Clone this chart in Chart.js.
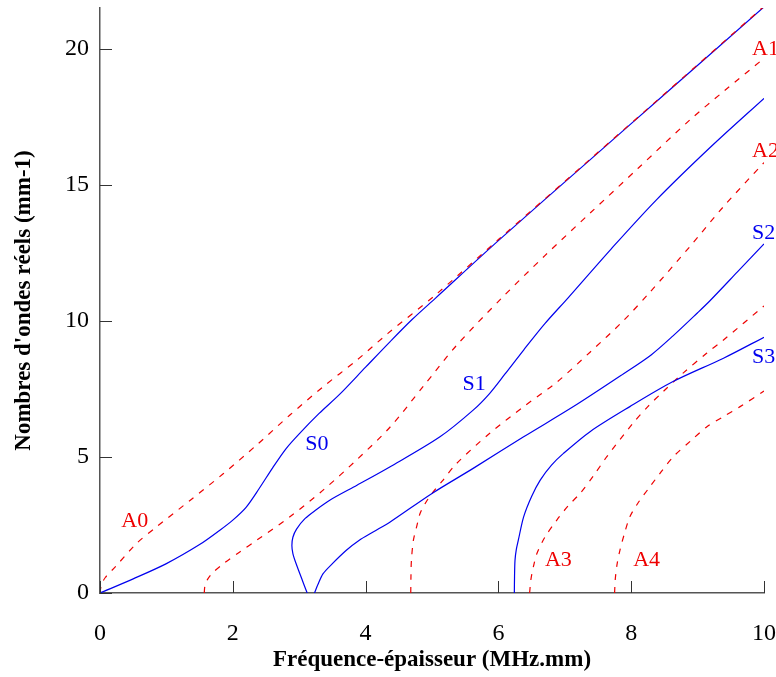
<!DOCTYPE html>
<html>
<head>
<meta charset="utf-8">
<script src="https://cdn.jsdelivr.net/npm/chart.js@4.4.1/dist/chart.umd.min.js"></script>
<style>
  html, body { margin: 0; padding: 0; background: #fff; }
  #wrap { width: 776px; height: 677px; }
</style>
</head>
<body>
<div id="wrap"><canvas id="lambChart" width="776" height="677"></canvas></div>
<script>
// --- Données (fd en MHz.mm, k en mm-1) ---
const xTicks = [0, 2, 4, 6, 8, 10];
const yTicks = [0, 5, 10, 15, 20];

const a0X = [0, 0.02, 0.08, 0.23, 0.55, 0.85, 1.36, 1.86, 2.36, 2.86, 3.36, 3.87, 4.34, 5.05, 6.0, 7.38, 8.5, 10];
const a0Y = [0, 0.29, 0.57, 0.96, 1.82, 2.43, 3.41, 4.39, 5.44, 6.54, 7.58, 8.56, 9.55, 10.95, 12.99, 15.94, 18.34, 21.56];

const s0X = [0, 0.5, 1.0, 1.5, 1.8, 2.0, 2.2, 2.4, 2.6, 2.8, 3.0, 3.3, 3.6, 4.0, 4.37, 4.7, 5.05, 6.0, 7.38, 8.5, 10];
const s0Y = [0, 0.52, 1.08, 1.78, 2.3, 2.68, 3.15, 3.85, 4.6, 5.3, 5.85, 6.6, 7.28, 8.3, 9.24, 10.05, 10.83, 12.95, 15.92, 18.32, 21.54];

const a1X = [1.57, 1.58, 1.62, 1.7, 1.86, 2.1, 2.36, 2.86, 3.36, 3.86, 4.37, 4.87, 5.37, 6.05, 6.7, 7.38, 8.1, 8.89, 9.4, 10];
const a1Y = [0, 0.25, 0.5, 0.75, 1.08, 1.5, 1.94, 2.80, 3.78, 4.88, 6.1, 7.6, 9.1, 10.84, 12.4, 13.96, 15.6, 17.4, 18.45, 19.65];

const s1X = [3.12, 3.065, 3.01, 2.95, 2.905, 2.89, 2.905, 2.96, 3.09, 3.25, 3.46, 3.87, 4.37, 5.12, 5.62, 5.87, 6.1, 6.38, 6.7, 7.05, 7.7, 8.38, 9.2, 10];
const s1Y = [0, 0.35, 0.71, 1.1, 1.45, 1.75, 2.05, 2.35, 2.74, 3.05, 3.41, 3.96, 4.64, 5.74, 6.72, 7.34, 8.05, 8.93, 9.9, 10.85, 12.65, 14.45, 16.4, 18.18];

const s2X = [3.23, 3.28, 3.36, 3.5, 3.71, 3.9, 4.12, 4.37, 5.0, 5.62, 6.38, 7.13, 7.88, 8.3, 8.63, 9.0, 9.19, 9.6, 10];
const s2Y = [0, 0.3, 0.71, 1.08, 1.57, 1.93, 2.25, 2.61, 3.66, 4.58, 5.74, 6.85, 8.05, 8.75, 9.45, 10.3, 10.75, 11.8, 12.83];

const a2X = [4.68, 4.683, 4.69, 4.72, 4.77, 4.82, 4.9, 5.0, 5.15, 5.37, 5.87, 6.38, 6.88, 7.38, 7.88, 8.28, 8.89, 9.39, 10];
const a2Y = [0, 0.6, 1.2, 1.94, 2.45, 2.92, 3.3, 3.66, 4.1, 4.76, 5.87, 6.85, 7.75, 8.85, 10.0, 11.05, 12.75, 14.2, 15.82];

const s3X = [6.24, 6.243, 6.25, 6.27, 6.3, 6.38, 6.5, 6.63, 6.8, 6.98, 7.38, 7.98, 8.63, 9.39, 10];
const s3Y = [0, 0.6, 1.2, 1.6, 1.94, 2.80, 3.55, 4.15, 4.7, 5.13, 5.93, 6.85, 7.77, 8.63, 9.4];

const a3X = [6.47, 6.49, 6.53, 6.58, 6.7, 6.88, 7.05, 7.23, 7.43, 7.63, 8.03, 8.25, 8.48, 8.79, 9.14, 9.39, 10];
const a3Y = [0, 0.5, 1.0, 1.45, 2.05, 2.68, 3.2, 3.66, 4.3, 5.0, 6.25, 6.85, 7.4, 8.1, 8.82, 9.3, 10.55];

const a4X = [7.75, 7.76, 7.79, 7.83, 7.9, 7.98, 8.1, 8.28, 8.45, 8.63, 8.9, 9.14, 9.4, 9.64, 10];
const a4Y = [0, 0.5, 1.1, 1.57, 2.2, 2.8, 3.3, 3.9, 4.45, 5.0, 5.6, 6.11, 6.5, 6.85, 7.42];

// étiquettes des modes
const modeNames = ['A0', 'S0', 'S1', 'A1', 'A2', 'S2', 'S3', 'A3', 'A4'];
const modeLabelX = [0.32, 3.09, 5.46, 9.82, 9.82, 9.82, 9.82, 6.70, 8.03];
const modeLabelY = [2.64, 5.47, 7.68, 19.97, 16.22, 13.24, 8.67, 1.20, 1.20];

const BLUE = '#0000ee';
const RED = '#ee0000';
const SERIF = "'Liberation Serif', 'Times New Roman', serif";

function pts(xs, ys) {
    return xs.map((x, i) => ({ x: x, y: ys[i] }));
}

function mode(name, xs, ys, sym) {
    return {
        label: name,
        data: pts(xs, ys),
        showLine: true,
        borderColor: sym ? BLUE : RED,
        borderWidth: 1.2,
        borderDash: sym ? [] : [6, 7],
        pointRadius: 0,
        tension: 0.3,
        fill: false
    };
}

// pas de marge automatique autour des axes
function noPad(s) {
    s.paddingTop = 0; s.paddingBottom = 0; s.paddingLeft = 0; s.paddingRight = 0;
}

// --- Ticks vers l'intérieur + noms des modes ---
const innerTicks = {
    id: 'innerTicks',
    afterDraw(chart) {
        const c = chart.ctx;
        const xs = chart.scales.x, ys = chart.scales.y;
        const area = chart.chartArea;
        c.save();
        c.strokeStyle = '#333';
        c.lineWidth = 1;
        xTicks.forEach(v => {
            const p = Math.round(xs.getPixelForValue(v)) + 0.5;
            c.beginPath(); c.moveTo(p, area.bottom); c.lineTo(p, area.bottom - 12); c.stroke();
        });
        yTicks.forEach(v => {
            const p = Math.round(ys.getPixelForValue(v)) + 0.5;
            c.beginPath(); c.moveTo(area.left, p); c.lineTo(area.left + 12, p); c.stroke();
        });
        c.font = '22px ' + SERIF;
        c.textAlign = 'left';
        c.textBaseline = 'middle';
        modeNames.forEach((n, i) => {
            c.fillStyle = n[0] === 'S' ? BLUE : RED;
            c.fillText(n, xs.getPixelForValue(modeLabelX[i]), ys.getPixelForValue(modeLabelY[i]));
        });
        c.restore();
    }
};

const ctx = document.getElementById('lambChart').getContext('2d');
const lambChart = new Chart(ctx, {
    type: 'scatter',
    data: {
        datasets: [
            mode('A0', a0X, a0Y, false),
            mode('S0', s0X, s0Y, true),
            mode('A1', a1X, a1Y, false),
            mode('S1', s1X, s1Y, true),
            mode('S2', s2X, s2Y, true),
            mode('A2', a2X, a2Y, false),
            mode('S3', s3X, s3Y, true),
            mode('A3', a3X, a3Y, false),
            mode('A4', a4X, a4Y, false)
        ]
    },
    options: {
        responsive: false,
        animation: false,
        layout: { padding: { top: 8, right: 12, left: 0, bottom: 0 } },
        plugins: { legend: { display: false }, tooltip: { enabled: false } },
        scales: {
            x: {
                type: 'linear', min: 0, max: 10,
                afterBuildTicks: s => { s.ticks = xTicks.map(v => ({ value: v })); },
                afterFit: s => { s.height = 84; noPad(s); },
                grid: { display: false, drawTicks: false },
                border: { display: true, color: '#555', width: 1.5 },
                ticks: { color: '#000', padding: 26, maxRotation: 0, font: { family: SERIF, size: 24 } },
                title: {
                    display: true, text: 'Fréquence-épaisseur (MHz.mm)', color: '#000',
                    font: { family: SERIF, size: 23, weight: 'bold' },
                    padding: { top: 0, bottom: 3 }
                }
            },
            y: {
                type: 'linear', min: 0, max: 21.5,
                afterBuildTicks: s => { s.ticks = yTicks.map(v => ({ value: v })); },
                afterFit: s => { s.width = 100; noPad(s); },
                grid: { display: false, drawTicks: false },
                border: { display: true, color: '#555', width: 1.5 },
                ticks: { color: '#000', padding: 11, font: { family: SERIF, size: 24 } },
                title: {
                    display: true, text: "Nombres d'ondes réels (mm-1)", color: '#000',
                    font: { family: SERIF, size: 23, weight: 'bold' },
                    padding: { top: 10, bottom: 0 }
                }
            }
        }
    },
    plugins: [innerTicks]
});
</script>
</body>
</html>
